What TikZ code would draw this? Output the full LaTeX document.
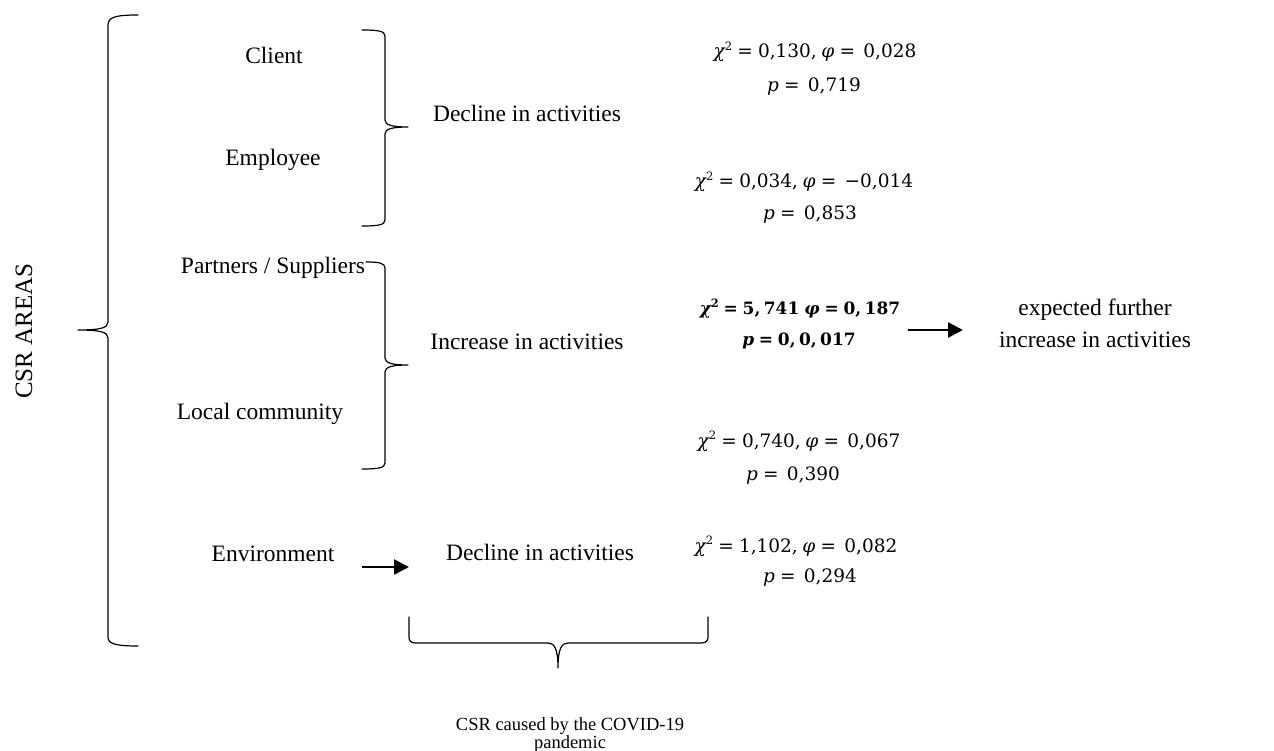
\documentclass[tikz,border=0pt]{standalone}
\usepackage{fontspec}
\setmainfont{Liberation Serif}
\newfontfamily\statfont{DejaVu Serif}
\usetikzlibrary{arrows.meta}
\newcommand\eqs{\hspace{.28em}=\hspace{.28em}}
\newcommand\eqw{\hspace{.28em}=\hspace{.45em}}
\newcommand\vchi{{\itshape χ}\raisebox{.42em}{\fontsize{11.5}{12}\selectfont 2}}
\newcommand\vphi{{\itshape φ}}
\newcommand\vp{{\itshape p}}
\begin{document}
\begin{tikzpicture}[x=1pt,y=-1pt,
  lbl/.style={font=\fontsize{23.5}{28}\selectfont, inner sep=0pt, anchor=base},
  stat/.style={font=\statfont\fontsize{18.5}{20}\selectfont, inner sep=0pt, anchor=base},
  bstat/.style={font=\statfont\fontsize{17}{20}\selectfont\bfseries, inner sep=0pt, anchor=base},
  small/.style={font=\fontsize{18.5}{18}\selectfont, inner sep=0pt, anchor=base, align=center},
  brace/.style={line width=1.2pt, line join=round, line cap=round},
  arr/.style={line width=2.4pt, -{Triangle[length=15pt,width=15pt]}}]
\path[use as bounding box] (0,0) rectangle (1274,751);

% left labels
\node[lbl] (client) at (274,64) {Client};
\node[lbl] (employee) at (273,166) {Employee};
\node[lbl] (partners) at (273,273) {Partners / Suppliers};
\node[lbl] (local) at (260,419) {Local community};
\node[lbl] (env) at (273,561) {Environment};

% middle labels
\node[lbl] (dec1) at (527,122) {Decline in activities};
\node[lbl] (inc) at (527,349) {Increase in activities};
\node[lbl] (dec3) at (540,560) {Decline in activities};

% vertical title
\node[font=\fontsize{25}{28}\selectfont, inner sep=0pt, rotate=90] (areas) at (24,331) {CSR AREAS};

% statistics
\node[stat] (s1a) at (815,58) {\vchi\eqs 0,130,\hspace{.25em}\vphi\eqw 0,028};
\node[stat] (s1b) at (814,92) {\vp\eqw 0,719};
\node[stat] (s2a) at (804,188) {\vchi\eqs 0,034,\hspace{.25em}\vphi\eqw −0,014};
\node[stat] (s2b) at (810,220) {\vp\eqw 0,853};
\node[bstat] (s3a) at (800,315) {\vchi\eqs 5,\hspace{.2em}741\hspace{.3em}\vphi\eqs 0,\hspace{.2em}187};
\node[bstat] (s3b) at (799,345) {\vp\eqs 0,\hspace{.2em}0,\hspace{.2em}017};
\node[stat] (s4a) at (799,447) {\vchi\eqs 0,740,\hspace{.25em}\vphi\eqw 0,067};
\node[stat] (s4b) at (793,480) {\vp\eqw 0,390};
\node[stat] (s5a) at (796,552) {\vchi\eqs 1,102,\hspace{.25em}\vphi\eqw 0,082};
\node[stat] (s5b) at (810,582) {\vp\eqw 0,294};

% result
\node[lbl, font=\fontsize{23.5}{32}\selectfont, align=center] (exp) at (1095,347) {expected further\\increase in activities};

% bottom caption
\node[small] (cap) at (570,748) {CSR caused by the COVID-19\\pandemic};

% big left brace
\draw[brace] (138,15) .. controls (116,15) and (108,17) .. (108,25)
  -- (108,322) .. controls (108,328) and (100,330) .. (78,330)
  .. controls (100,330) and (108,332) .. (108,338)
  -- (108,637) .. controls (108,644) and (116,646) .. (138,646);

% brace 1 (Client / Employee)
\draw[brace] (362,30) .. controls (378,30) and (385,31) .. (385,36)
  -- (385,120) .. controls (385,125) and (392,127) .. (408,127)
  .. controls (392,127) and (385,129) .. (385,134)
  -- (385,220) .. controls (385,225) and (378,226) .. (362,226);

% brace 2 (Partners / Local community)
\draw[brace] (366,262) .. controls (379,262) and (385,263) .. (385,268)
  -- (385,358) .. controls (385,363) and (392,365) .. (408,365)
  .. controls (392,365) and (385,367) .. (385,372)
  -- (385,463) .. controls (385,468) and (378,469) .. (362,469);

% bottom brace
\draw[brace] (409,617) -- (409,637) .. controls (409,641) and (411,643) .. (416,643)
  -- (548,643) .. controls (554,643) and (558,648) .. (558,668)
  .. controls (558,648) and (562,643) .. (568,643)
  -- (701,643) .. controls (706,643) and (708,641) .. (708,637) -- (708,617);

% arrows
\coordinate (ea) at (362,567);
\coordinate (eb) at (409,567);
\draw[arr] (ea) -- (eb);
\coordinate (ra) at (908,330);
\coordinate (rb) at (963,330);
\draw[arr] (ra) -- (rb);
\end{tikzpicture}
\end{document}
